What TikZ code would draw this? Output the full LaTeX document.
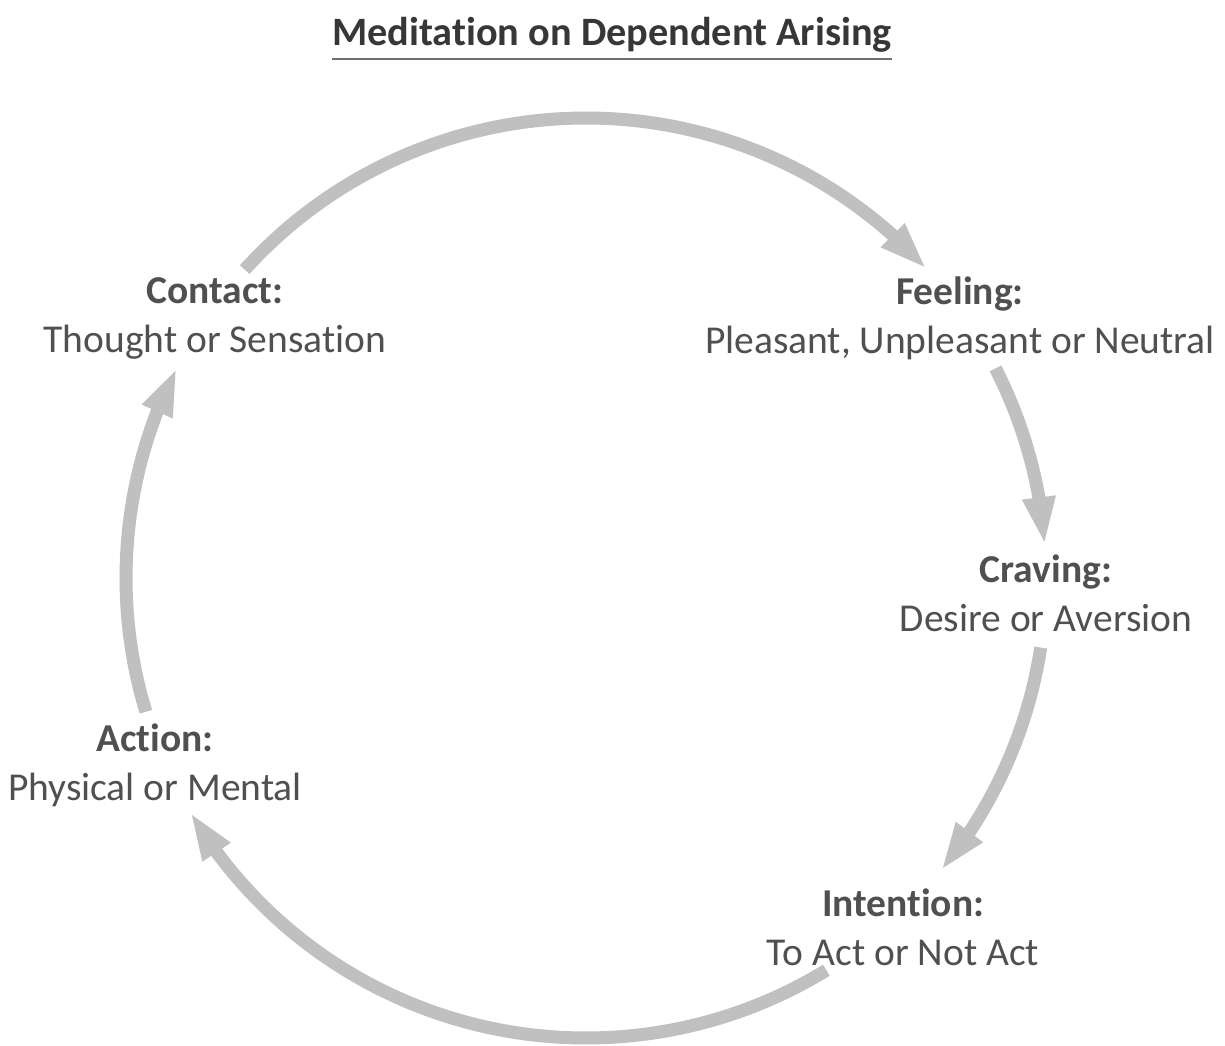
\documentclass[tikz,border=0pt]{standalone}
\usepackage{fontspec}
\setmainfont{Carlito}[Ligatures=NoCommon]
\usetikzlibrary{arrows.meta,bending,calc}
\definecolor{arrowgray}{RGB}{192,192,192}
\definecolor{labelgray}{RGB}{80,80,80}
\definecolor{titlegray}{RGB}{55,55,55}
\definecolor{rulegray}{RGB}{110,110,110}
\begin{document}
\begin{tikzpicture}[x=1pt,y=1pt,
  cyc/.style={draw=arrowgray, line width=13pt, -{Triangle[length=48pt,width=30pt]}},
  lbl/.style={align=center, inner sep=0pt, text=labelgray, font=\fontsize{39.5}{49}\selectfont},
  ttl/.style={inner sep=0pt, text=titlegray, font=\fontsize{40.3}{48}\selectfont\bfseries}]
\fill[white] (0,-1045) rectangle (1225,0);
\useasboundingbox (0,-1045) rectangle (1225,0);

% title
\node[ttl, anchor=base] (title) at (612,-45) {Meditation on Dependent Arising};
\draw[rulegray, line width=2pt] ($(title.base west)+(0,-14)$) -- ($(title.base east)+(0,-14)$);

% labels
\node[lbl] (contact) at (215,-318) {\textbf{Contact:}\\Thought or Sensation};
\node[lbl] (feeling) at (960,-318) {\textbf{Feeling:}\\Pleasant, Unpleasant or Neutral};
\node[lbl] (craving) at (1046,-593) {\textbf{Craving:}\\Desire or Aversion};
\node[lbl] (intention) at (903,-927) {\textbf{Intention:}\\To Act or Not Act};
\node[lbl] (action) at (155,-765) {\textbf{Action:}\\Physical or Mental};

% cycle arrows
\coordinate (O) at (586,-578);
\coordinate (s1) at ($(O)+(137.9:460)$);
\coordinate (s2) at ($(O)+(27.1:460)$);
\coordinate (s3) at ($(O)+(-8.7:460)$);
\coordinate (s4) at ($(O)+(-58.5:460)$);
\coordinate (s5) at ($(O)+(196.9:460)$);
\draw[cyc] (s1) arc[start angle=137.9, end angle=42.2, radius=460];
\draw[cyc] (s2) arc[start angle=27.1, end angle=4.1, radius=460];
\draw[cyc] (s3) arc[start angle=-8.7, end angle=-39.5, radius=460];
\draw[cyc] (s4) arc[start angle=-58.5, end angle=-149.4, radius=460];
\draw[cyc] (s5) arc[start angle=196.9, end angle=152.8, radius=460];
\end{tikzpicture}
\end{document}
